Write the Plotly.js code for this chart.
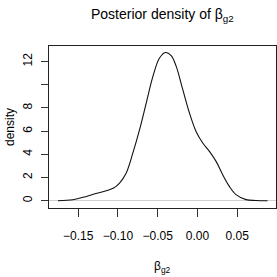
<!DOCTYPE html>
<html>
<head>
<meta charset="utf-8">
<script src="https://cdn.plot.ly/plotly-3.0.1.min.js"></script>
<style>html,body{margin:0;padding:0;background:#fff;}#chart{width:277px;height:277px;}</style>
</head>
<body>
<div id="chart"></div>
<script>
// Posterior density of beta_g2
var betaG2 = [-0.1755, -0.157, -0.144, -0.129, -0.1147, -0.1055, -0.098, -0.0896, -0.0813, -0.0729, -0.0645, -0.0561, -0.0477, -0.0402, -0.033, -0.0268, -0.0184, -0.01, -0.0017, 0.0067, 0.0151, 0.0235, 0.0318, 0.0402, 0.0486, 0.0612, 0.0737, 0.0883];
var density = [0.0, 0.08, 0.29, 0.6, 0.86, 1.09, 1.52, 2.39, 4.1, 6.1, 8.4, 10.7, 12.3, 12.78, 12.5, 11.6, 9.57, 7.56, 5.97, 4.97, 4.25, 3.39, 2.24, 1.23, 0.52, 0.09, 0.02, 0.0];
var xTickVals = [-0.15, -0.10, -0.05, 0.00, 0.05];
var xTickText = ['\u22120.15', '\u22120.10', '\u22120.05', '0.00', '0.05'];
var yTickVals = [0, 2, 4, 6, 8, 10, 12];
var yTickText = ['0', '2', '4', '6', '8', '', '12'];

var font = 'Liberation Sans, Arial, sans-serif';
var trace = {
  x: betaG2, y: density, type: 'scatter', mode: 'lines',
  line: {color: '#111', width: 1.1, shape: 'spline', smoothing: 1},
  hoverinfo: 'skip'
};
var layout = {
  width: 277, height: 277,
  margin: {l: 49, r: 1, t: 46, b: 69},
  paper_bgcolor: '#fff', plot_bgcolor: '#fff',
  showlegend: false,
  font: {family: font, size: 12, color: '#000'},
  xaxis: {
    range: [-0.1868, 0.0989], tickvals: xTickVals, ticktext: xTickText,
    ticks: 'outside', ticklen: 8, tickcolor: '#333', tickwidth: 1,
    ticklabelstandoff: 9,
    showgrid: false, zeroline: false,
    showline: true, mirror: true, linecolor: '#222', linewidth: 1,
    tickfont: {family: font, size: 12, color: '#000'}
  },
  yaxis: {
    range: [-0.63, 13.34], tickvals: yTickVals, ticktext: yTickText,
    ticks: 'outside', ticklen: 7, tickcolor: '#333', tickwidth: 1,
    tickangle: -90, ticklabelstandoff: 4,
    showgrid: false, zeroline: true, zerolinecolor: '#d0d0d0', zerolinewidth: 1,
    showline: true, mirror: true, linecolor: '#222', linewidth: 1,
    tickfont: {family: font, size: 12, color: '#000'}
  },
  annotations: [
    {text: 'Posterior density of \u03b2<sub>g2</sub>', xref: 'paper', yref: 'paper',
     x: 0.5, y: 1, yshift: 31, xanchor: 'center', yanchor: 'middle', showarrow: false,
     font: {family: font, size: 14, color: '#000'}},
    {text: '\u03b2<sub>g2</sub>', xref: 'paper', yref: 'paper',
     x: 0.5, y: 0, yshift: -59, xanchor: 'center', yanchor: 'middle', showarrow: false,
     font: {family: font, size: 12, color: '#000'}},
    {text: 'density', xref: 'paper', yref: 'paper', textangle: -90,
     x: 0, xshift: -39, y: 0.5, xanchor: 'center', yanchor: 'middle', showarrow: false,
     font: {family: font, size: 12, color: '#000'}}
  ]
};
Plotly.newPlot('chart', [trace], layout, {staticPlot: true, displayModeBar: false});
</script>
</body>
</html>
